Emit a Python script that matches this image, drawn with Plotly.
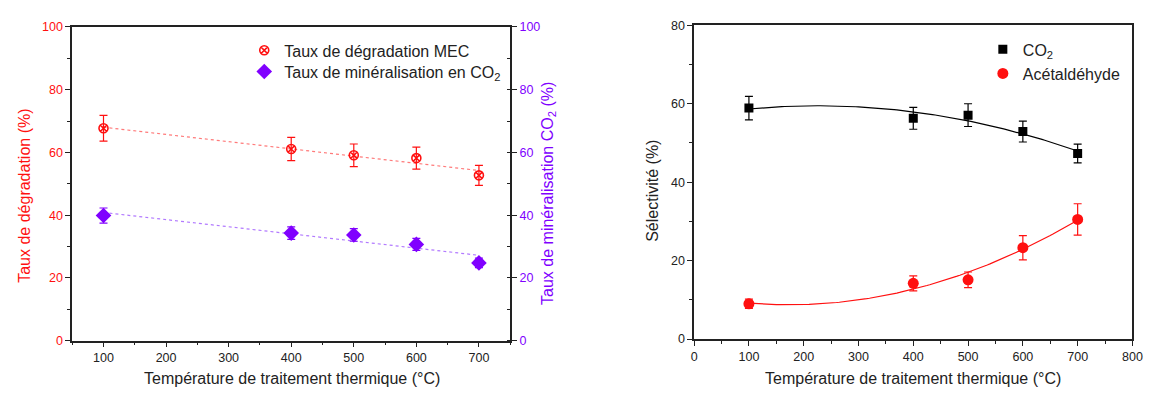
import numpy as np
import plotly.graph_objects as go

# ---- data ----
temp = [100, 400, 500, 600, 700]
deg_mec = [67.7, 61.1, 59.1, 58.2, 52.7]
deg_mec_err = [4.1, 3.7, 3.6, 3.5, 3.2]
mineral_co2 = [39.9, 34.3, 33.7, 30.7, 24.8]
mineral_co2_err = [2.4, 2.0, 2.0, 1.9, 1.5]
sel_co2 = [58.9, 56.3, 57.1, 52.9, 47.3]
sel_co2_err = [3.0, 2.8, 2.9, 2.65, 2.4]
sel_acet = [9.0, 14.2, 15.1, 23.3, 30.5]
sel_acet_err = [1.2, 1.9, 2.0, 3.1, 4.0]

x_title = "Température de traitement thermique (°C)"
y_title_left = "Taux de dégradation (%)"
y_title_right = "Taux de minéralisation CO<sub>2</sub> (%)"
y_title_sel = "Sélectivité (%)"

RED = "#ff1010"
PURPLE = "#8000ff"
AXC = "#222222"
TXT = "#222222"
FONT = "Arial, Liberation Sans, sans-serif"

W, H = 1154, 394


def fit(x, y, deg):
    c = np.polyfit(x, y, deg)
    xs = np.linspace(min(x), max(x), 121)
    return xs, np.polyval(c, xs)


fig = go.Figure()

# ---- left chart ----
xs, ys = fit(temp, deg_mec, 1)
fig.add_trace(go.Scatter(x=xs, y=ys, mode="lines", line=dict(color="#ff7a7a", width=1.2, dash="dot"),
                         showlegend=False, hoverinfo="skip", xaxis="x", yaxis="y"))
xs, ys = fit(temp, mineral_co2, 1)
fig.add_trace(go.Scatter(x=xs, y=ys, mode="lines", line=dict(color="#b27aff", width=1.2, dash="dot"),
                         showlegend=False, hoverinfo="skip", xaxis="x", yaxis="y3"))

fig.add_trace(go.Scatter(
    x=temp, y=deg_mec, mode="markers", name="Taux de dégradation MEC",
    marker=dict(symbol="circle-x-open", size=9, color=RED, line=dict(width=1.6, color=RED)),
    error_y=dict(type="data", array=deg_mec_err, color=RED, thickness=1.2, width=4),
    xaxis="x", yaxis="y", legend="legend"))
fig.add_trace(go.Scatter(
    x=temp, y=mineral_co2, mode="markers", name="Taux de minéralisation en CO<sub>2</sub>",
    marker=dict(symbol="diamond", size=12, color=PURPLE),
    error_y=dict(type="data", array=mineral_co2_err, color=PURPLE, thickness=1.2, width=4),
    xaxis="x", yaxis="y3", legend="legend2"))

# ---- right chart ----
xs, ys = fit(temp, sel_co2, 2)
fig.add_trace(go.Scatter(x=xs, y=ys, mode="lines", line=dict(color="black", width=1.2),
                         showlegend=False, hoverinfo="skip", xaxis="x2", yaxis="y2"))
xs, ys = fit(temp, sel_acet, 2)
fig.add_trace(go.Scatter(x=xs, y=ys, mode="lines", line=dict(color=RED, width=1.2),
                         showlegend=False, hoverinfo="skip", xaxis="x2", yaxis="y2"))

fig.add_trace(go.Scatter(
    x=temp, y=sel_co2, mode="markers", name="CO<sub>2</sub>",
    marker=dict(symbol="square", size=9, color="black"),
    error_y=dict(type="data", array=sel_co2_err, color="black", thickness=1.2, width=4),
    xaxis="x2", yaxis="y2", legend="legend3"))
fig.add_trace(go.Scatter(
    x=temp, y=sel_acet, mode="markers", name="Acétaldéhyde",
    marker=dict(symbol="circle", size=11, color=RED),
    error_y=dict(type="data", array=sel_acet_err, color=RED, thickness=1.2, width=4),
    xaxis="x2", yaxis="y2", legend="legend4"))

tickfont = dict(family=FONT, size=12.5, color=TXT)


def fx(px):
    return px / W


def fy(py):
    return 1 - py / H


def xax(domain, rng, anchor):
    return dict(domain=domain, range=rng, anchor=anchor, dtick=100, tick0=0,
                showline=True, linecolor=AXC, linewidth=1.5, mirror=True,
                ticks="outside", ticklen=5, tickwidth=1.3, tickcolor=AXC,
                minor=dict(dtick=50, tick0=0, ticks="outside", ticklen=3, tickwidth=1.2, tickcolor=AXC),
                showgrid=False, zeroline=False, tickfont=tickfont, ticklabeloverflow="allow")


def leg(px, py):
    return dict(x=fx(px - 19), y=fy(py), xanchor="left", yanchor="middle",
                bgcolor="rgba(0,0,0,0)", borderwidth=0,
                font=dict(family=FONT, size=16, color=TXT))


def ann(text, px, py, color, angle=0):
    return dict(text=text, x=fx(px), y=fy(py), xref="paper", yref="paper",
                xanchor="center", yanchor="middle", showarrow=False, textangle=angle,
                font=dict(family=FONT, size=16, color=color))


ldom = [fy(346), fy(20.7)]
rdom = [fy(344.3), fy(19)]

fig.update_layout(
    width=W, height=H,
    margin=dict(l=0, r=0, t=0, b=0),
    paper_bgcolor="white", plot_bgcolor="white",
    font=dict(family=FONT, size=14, color=TXT),
    xaxis=xax([fx(70), fx(513)], [50, 750], "y"),
    yaxis=dict(domain=ldom, range=[0, 100], anchor="x", dtick=20,
               showline=True, linecolor=AXC, linewidth=1.5, mirror=True,
               ticks="outside", ticklen=5, tickwidth=1.3, tickcolor=AXC,
               minor=dict(dtick=10, ticks="outside", ticklen=3, tickwidth=1.2, tickcolor=AXC),
               showgrid=False, zeroline=False,
               tickfont=dict(family=FONT, size=12.5, color=RED)),
    yaxis3=dict(domain=ldom, range=[0, 100], anchor="x", overlaying="y", side="right", dtick=20,
                showline=True, linecolor=AXC, linewidth=1.5,
                ticks="outside", ticklen=5, tickwidth=1.3, tickcolor=AXC,
                minor=dict(dtick=10, ticks="inside", ticklen=3, tickwidth=1.2, tickcolor=AXC),
                showgrid=False, zeroline=False,
                tickfont=dict(family=FONT, size=12.5, color=PURPLE)),
    xaxis2=xax([fx(699), fx(1142.3)], [0, 800], "y2"),
    yaxis2=dict(domain=rdom, range=[0, 80], anchor="x2", dtick=20,
                showline=True, linecolor=AXC, linewidth=1.5, mirror=True,
                ticks="outside", ticklen=5, tickwidth=1.3, tickcolor=AXC,
                minor=dict(dtick=10, ticks="outside", ticklen=3, tickwidth=1.2, tickcolor=AXC),
                showgrid=False, zeroline=False, tickfont=tickfont),
    legend=leg(263, 45),
    legend2=leg(263, 67),
    legend3=leg(1010, 44),
    legend4=leg(1010, 69),
    showlegend=True,
    annotations=[
        ann(x_title, 292, 385, TXT),
        ann(x_title, 920, 385, TXT),
        ann(y_title_left, 21, 196, RED, -90),
        ann(y_title_right, 551, 193, PURPLE, -90),
        ann(y_title_sel, 657, 191, TXT, -90),
    ],
)

fig.write_html("out.html", config={"displayModeBar": False},
               post_script="document.body.style.margin='0';document.body.style.overflow='hidden';")
